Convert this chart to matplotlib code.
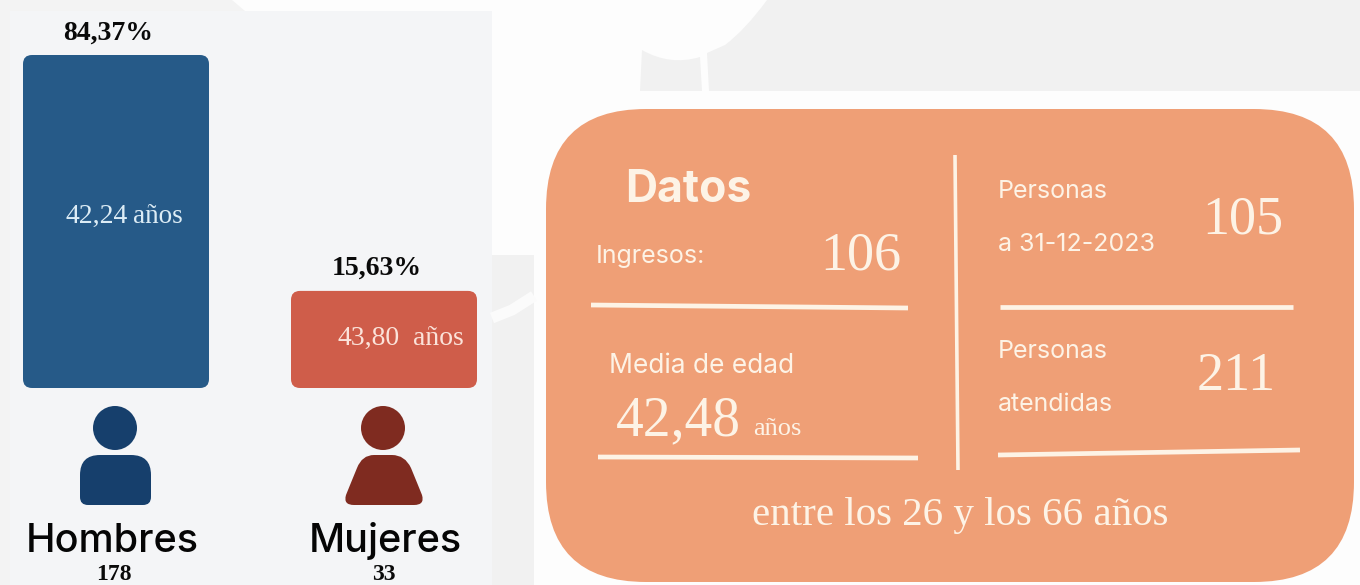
import matplotlib
matplotlib.use('Agg')
import matplotlib.pyplot as plt
from matplotlib.patches import Circle, FancyBboxPatch, PathPatch, Polygon, Rectangle
from matplotlib.path import Path

# values as printed in the picture
categorias = ['Hombres', 'Mujeres']
personas = ['178', '33']
porcentajes = ['84,37%', '15,63%']
edades = ['42,24', '43,80']
# bar lengths as drawn: the Mujeres bar is taller than its 15,63 would give
alturas = [84.37, 24.6]
colores = ['#265a88', '#cf5d4a']

W, H = 1360, 585
SERIF = 'Liberation Serif'
SANS = 'Inter'
CREMA = '#fdf3e6'
M, L, Q = Path.MOVETO, Path.LINETO, Path.CURVE3

fig = plt.figure(figsize=(W / 100, H / 100), dpi=100, facecolor='#fdfdfd')

# whole picture in pixel coordinates for the backdrop and the card
ax = fig.add_axes([0, 0, 1, 1])
ax.set_xlim(0, W)
ax.set_ylim(H, 0)
ax.axis('off')

# pale grey backdrop pieces
ax.add_patch(Polygon([(0, 0), (232, 0), (245, 11), (10, 11), (10, 585), (0, 585)], fc='#f3f3f3', ec='none'))
ax.add_patch(PathPatch(Path([(767, 0), (745, 30), (725, 45), (707, 53), (709, 91), (1360, 91), (1360, 0), (767, 0)],
                            [M, Q, Q, L, L, L, L, L]), fc='#f1f1f1', ec='none'))
ax.add_patch(PathPatch(Path([(642, 50), (670, 66), (700, 57), (702, 91), (640, 91), (642, 50)],
                            [M, Q, Q, L, L, L]), fc='#f1f1f1', ec='none'))
ax.add_patch(Rectangle((10, 11), 482, 574, fc='#f4f5f7', ec='none'))
# grey strip right of the panel, crossed by a white stroke
ax.add_patch(Rectangle((492, 255), 42, 330, fc='#f1f1f1', ec='none'))
ax.plot([492, 512, 534], [318, 310, 296], color='#fbfbfb', lw=8, solid_capstyle='butt')

# person icons
ax.add_patch(Circle((115, 428), 22, fc='#163f6c', ec='none'))
ax.add_patch(PathPatch(Path([(100, 455), (131, 455), (151, 455), (151, 475), (151, 497), (151, 505), (143, 505),
                             (88, 505), (80, 505), (80, 497), (80, 475), (80, 455), (100, 455)],
                            [M, L, Q, Q, L, Q, Q, L, Q, Q, L, Q, Q]), fc='#163f6c', ec='none'))
ax.add_patch(Circle((383, 428), 22, fc='#7f2b20', ec='none'))
ax.add_patch(PathPatch(Path([(374, 455), (392, 455), (405, 455), (411, 468), (418, 485), (422, 495), (425, 505), (414, 505),
                             (354, 505), (343, 505), (346, 495), (350, 485), (357, 468), (362, 455), (374, 455)],
                            [M, L, Q, Q, Q, Q, Q, Q, L, Q, Q, Q, Q, Q, Q]), fc='#7f2b20', ec='none'))

# orange card
ax.add_patch(FancyBboxPatch((546, 109), 808, 473, boxstyle='round,pad=0,rounding_size=100', fc='#ef9f76', ec='none'))
for x0, y0, x1, y1, lw in [(955, 155, 958, 470, 2.6), (591, 305, 908, 308, 3.4), (1000, 307, 1293, 307, 3.4),
                           (598, 457, 918, 458, 3.4), (998, 455, 1300, 450, 3.4)]:
    ax.plot([x0, x1], [y0, y1], color=CREMA, lw=lw, solid_capstyle='butt')

# bars, on their own axes with the baseline at y=388 px
unidad_x = 268.0
unidad_y = 333.0 / alturas[0]
ax_b = fig.add_axes([0, 1 - 388 / H, 520 / W, 388 / H])
ax_b.set_xlim(-116 / unidad_x, (520 - 116) / unidad_x)
ax_b.set_ylim(0, 388 / unidad_y)
ax_b.axis('off')
ancho = 186 / unidad_x
for i, alto in enumerate(alturas):
    ax_b.add_patch(FancyBboxPatch((i - ancho / 2, 0), ancho, alto,
                                  boxstyle='round,pad=0,rounding_size=%f' % (9 / unidad_x),
                                  mutation_aspect=unidad_x / unidad_y, fc=colores[i], ec='none'))

# all the text goes on a top layer, over the bars
tx = fig.add_axes([0, 0, 1, 1], facecolor='none')
tx.set_xlim(0, W)
tx.set_ylim(H, 0)
tx.axis('off')

# bar labels
tx.text(108, 40, porcentajes[0], family=SERIF, weight='bold', size=20, ha='center', color='#0a0a0a')
tx.text(377, 275, porcentajes[1], family=SERIF, weight='bold', size=20, ha='center', color='#0a0a0a')
tx.text(65, 223, edades[0], family=SERIF, size=20, color='#dcecf5')
tx.text(133, 223, 'años', family=SERIF, size=19.5, color='#dcecf5')
tx.text(338, 345, edades[1], family=SERIF, size=20, color='#fbe3da')
tx.text(413, 345, 'años', family=SERIF, size=20, color='#fbe3da')
for cx, nombre, n, nx in zip([112, 385], categorias, personas, [114, 384]):
    tx.text(cx, 552, nombre, family=SANS, weight='medium', size=28.5, ha='center', color='#050505')
    tx.text(nx, 580, n, family=SERIF, weight='bold', size=17, ha='center', color='#0a0a0a')

# card text
tx.text(625, 202, 'Datos', family='Inter', weight='bold', size=32, color=CREMA)
tx.text(596, 263, 'Ingresos:', family='Inter', size=18, color=CREMA)
tx.text(820, 270, '106', family=SERIF, size=39, color=CREMA)
tx.text(609, 373, 'Media de edad', family='Inter', size=19, color=CREMA)
tx.text(616, 435, '42,48', family=SERIF, size=40, color=CREMA)
tx.text(753, 435, 'años', family=SERIF, size=19, color=CREMA)
tx.text(998, 198, 'Personas', family='Inter', size=18, color=CREMA)
tx.text(998, 251, 'a 31-12-2023', family='Inter', size=18, color=CREMA)
tx.text(1202, 233, '105', family=SERIF, size=39, color=CREMA)
tx.text(998, 358, 'Personas', family='Inter', size=18, color=CREMA)
tx.text(998, 411, 'atendidas', family='Inter', size=18, color=CREMA)
tx.text(1197, 390, '211', family=SERIF, size=39, color=CREMA)
tx.text(960, 525, 'entre los 26 y los 66 años', family=SERIF, size=29.5, ha='center', color=CREMA)

fig.savefig('out.png', dpi=100, facecolor=fig.get_facecolor())
